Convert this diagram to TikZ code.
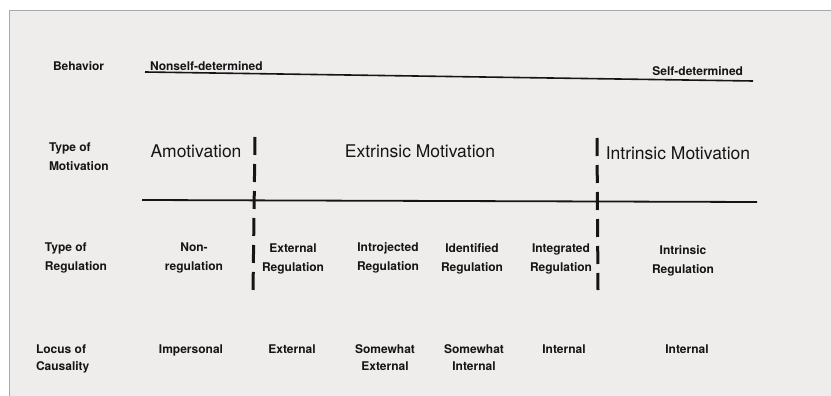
\documentclass[tikz,border=0pt]{standalone}
\usepackage{fontspec}
\setmainfont{TeX Gyre Heros}
\definecolor{ink}{HTML}{151515}
\definecolor{paper}{HTML}{EFEDEC}
\definecolor{rim}{HTML}{A9A7A7}
\begin{document}
\begin{tikzpicture}[x=1pt,y=-1pt,
  every node/.style={inner sep=0pt, outer sep=0pt, text=ink},
  rowlabel/.style={font=\bfseries\fontsize{12}{19}\selectfont, align=left, anchor=north west},
  cell/.style={font=\bfseries\fontsize{12}{19}\selectfont, align=center, anchor=north},
  locus/.style={font=\bfseries\fontsize{12}{17}\selectfont, align=center, anchor=north},
  motiv/.style={font=\fontsize{17.5}{20}\selectfont, anchor=north},
  axis/.style={line width=1.6pt, draw=ink},
  divider/.style={line width=3pt, draw=ink, dash pattern=on 18pt off 9pt}
]
\useasboundingbox (0,0) rectangle (831,396);
% page
\fill[white] (0,0) rectangle (831,396);
\fill[paper] (9,11) rectangle (831,396);
\draw[rim, line width=1pt] (9,396) -- (9,11) -- (831,11);

% behavior continuum
\node[rowlabel] (behavior) at (53,62) {Behavior};
\node[rowlabel] (nonself) at (150,62) {Nonself-determined};
\node[rowlabel, anchor=north east] (self) at (743,67) {Self-determined};
\coordinate (contL) at (145,72);
\coordinate (contR) at (753,81);
\draw[axis] (contL) -- (contR);

% type of motivation
\node[rowlabel] (typemot) at (49,143) {Type of\\Motivation};
\node[motiv] (amot) at (196,145) {Amotivation};
\node[motiv] (extr) at (420,145) {Extrinsic Motivation};
\node[motiv] (intr) at (678,147) {Intrinsic Motivation};

\coordinate (midL) at (142,200);
\coordinate (midR) at (757,202);
\draw[axis, line width=1.8pt] (midL) -- (midR);

% type of regulation
\node[rowlabel] (typereg) at (45,243) {Type of\\Regulation};
\node[cell] (nonreg) at (194,243) {Non-\\regulation};
\node[cell] (extreg) at (293,244) {External\\Regulation};
\node[cell] (introreg) at (388,243) {Introjected\\Regulation};
\node[cell] (identreg) at (472,244) {Identified\\Regulation};
\node[cell] (integreg) at (561,244) {Integrated\\Regulation};
\node[cell] (intrreg) at (683,246) {Intrinsic\\Regulation};

% locus of causality
\node[rowlabel, font=\bfseries\fontsize{12}{17}\selectfont] (locus) at (36,345) {Locus of\\Causality};
\node[locus] (impers) at (191,345) {Impersonal};
\node[locus] (extloc) at (292,345) {External};
\node[locus] (swext) at (385,345) {Somewhat\\External};
\node[locus] (swint) at (474,345) {Somewhat\\Internal};
\node[locus] (intloc) at (564,345) {Internal};
\node[locus] (intloc2) at (687,345) {Internal};

% dashed dividers
\coordinate (d1top) at (255,137);
\coordinate (d1bot) at (253,293);
\coordinate (d2top) at (597,138);
\coordinate (d2bot) at (598,290);
\draw[divider] (d1top) -- (d1bot);
\draw[divider] (d2top) -- (d2bot);
\end{tikzpicture}
\end{document}
